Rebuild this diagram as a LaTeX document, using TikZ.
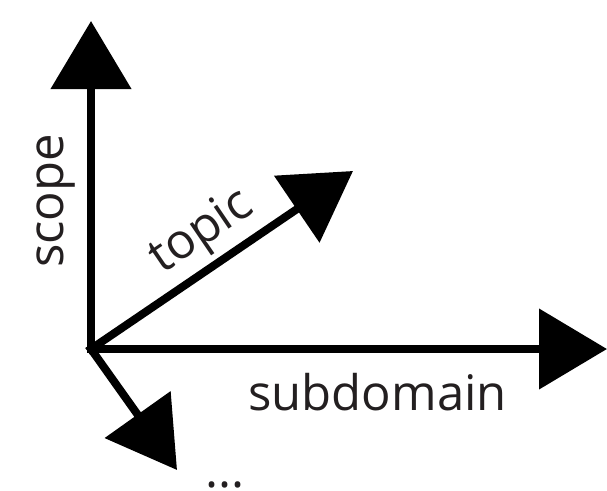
\documentclass[tikz,border=0pt]{standalone}
\usepackage{fontspec}
\setmainfont{Open Sans}
\usetikzlibrary{arrows.meta}
\definecolor{ink}{HTML}{231F20}
\begin{document}
\begin{tikzpicture}[x=1pt,y=-1pt,
  axis/.style={line width=8pt,line cap=rect,
    -{Triangle[length=68pt,width=79pt]}},
  lbl/.style={inner sep=0pt,text=ink,font=\fontsize{49}{58}\selectfont}]
  \useasboundingbox (0,0) rectangle (607,490);
  \coordinate (O) at (91,349);
  \coordinate (up) at (91,21);
  \coordinate (right) at (607,349);
  \coordinate (diag) at (353,171);
  \coordinate (down) at (177,470);
  \draw[axis] (O) -- (up);
  \draw[axis] (O) -- (right);
  \draw[axis] (O) -- (diag);
  \draw[axis] (O) -- (down);
  \node[lbl,rotate=90] (scope) at (56.5,201) {scope};
  \node[lbl] (subdomain) at (377.5,392.5) {subdomain};
  \node[lbl,rotate=34.2] (topic) at (202,233) {topic};
  \node[lbl] (more) at (225,485) {...};
\end{tikzpicture}
\end{document}
